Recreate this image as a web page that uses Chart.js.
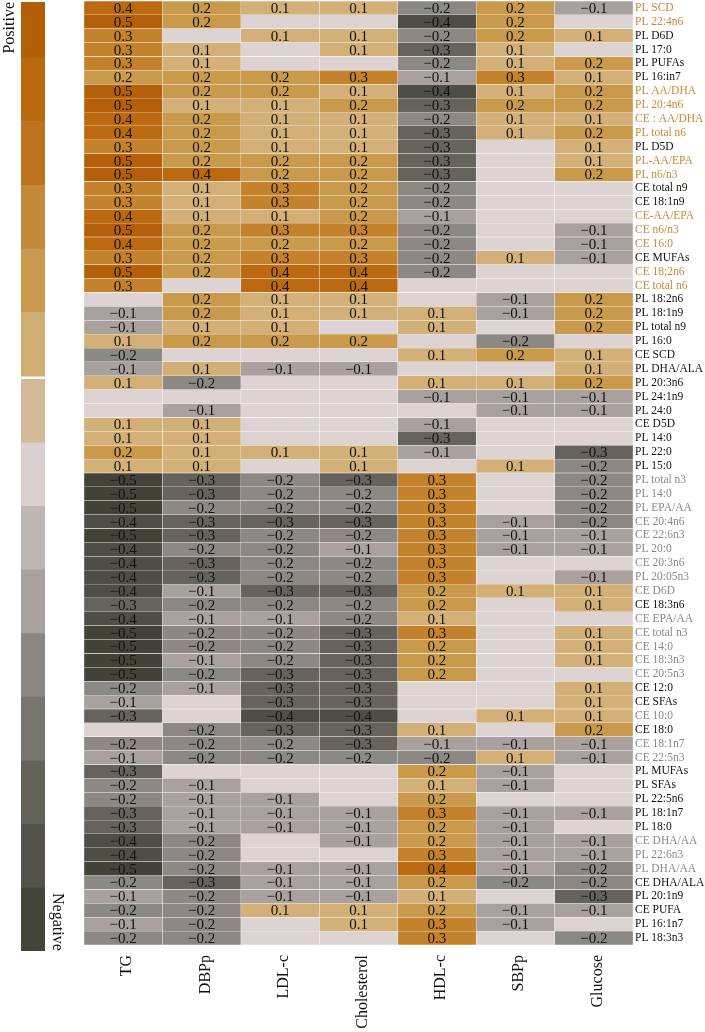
<!DOCTYPE html>
<html><head><meta charset="utf-8">
<script src="https://cdn.jsdelivr.net/npm/chart.js@4.4.1/dist/chart.umd.min.js"></script>
<style>html,body{margin:0;padding:0;background:#fff;overflow:hidden}</style>
</head><body>
<canvas id="c" width="705" height="1032" style="width:705px;height:1032px;display:block"></canvas>
<script>
const columns = ['TG','DBPp','LDL-c','Cholesterol','HDL-c','SBPp','Glucose'];
const rowLabels = ['PL SCD','PL 22:4n6','PL D6D','PL 17:0','PL PUFAs','PL 16:in7','PL AA/DHA','PL 20:4n6','CE : AA/DHA','PL total n6',
 'PL D5D','PL-AA/EPA','PL n6/n3','CE total n9','CE 18:1n9','CE-AA/EPA','CE n6/n3','CE 16:0','CE MUFAs','CE 18;2n6',
 'CE total n6','PL 18:2n6','PL 18:1n9','PL total n9','PL 16:0','CE SCD','PL DHA/ALA','PL 20:3n6','PL 24:1n9','PL 24:0',
 'CE D5D','PL 14:0','PL 22:0','PL 15:0','PL total n3','PL 14:0','PL EPA/AA','CE 20:4n6','CE 22:6n3','PL 20:0',
 'CE 20:3n6','PL 20:05n3','CE D6D','CE 18:3n6','CE EPA/AA','CE total n3','CE 14:0','CE 18:3n3','CE 20:5n3','CE 12:0',
 'CE SFAs','CE 10:0','CE 18:0','CE 18:1n7','CE 22:5n3','PL MUFAs','PL SFAs','PL 22:5n6','PL 18:1n7','PL 18:0',
 'CE DHA/AA','PL 22:6n3','PL DHA/AA','CE DHA/ALA','PL 20:1n9','CE PUFA','PL 16:1n7','PL 18:3n3'];
// o = orange label, g = gray label, k = black label
const labelTone = ['o','o','k','k','k','k','o','o','o','o',
 'k','o','o','k','k','o','o','o','k','o',
 'o','k','k','k','k','k','k','k','k','k',
 'k','k','k','k','g','g','g','g','g','g',
 'g','g','g','k','g','g','g','g','g','k',
 'k','g','k','g','g','k','k','k','k','k',
 'g','g','g','k','k','k','k','k'];
const N = null;
const TG = [0.4,0.5,0.3,0.3,0.3,0.2,0.5,0.5,0.4,0.4, 0.3,0.5,0.5,0.3,0.3,0.4,0.5,0.4,0.3,0.5,
 0.3,N,-0.1,-0.1,0.1,-0.2,-0.1,0.1,N,N, 0.1,0.1,0.2,0.1,-0.5,-0.5,-0.5,-0.4,-0.5,-0.4,
 -0.4,-0.4,-0.4,-0.3,-0.4,-0.5,-0.5,-0.5,-0.5,-0.2, -0.1,-0.3,N,-0.2,-0.1,-0.3,-0.2,-0.2,-0.3,-0.3,
 -0.4,-0.4,-0.5,-0.2,-0.1,-0.2,-0.1,-0.2];
const DBPp = [0.2,0.2,N,0.1,0.1,0.2,0.2,0.1,0.2,0.2, 0.2,0.2,0.4,0.1,0.1,0.1,0.2,0.2,0.2,0.2,
 N,0.2,0.2,0.1,0.2,N,0.1,-0.2,N,-0.1, 0.1,0.1,0.1,0.1,-0.3,-0.3,-0.2,-0.3,-0.3,-0.2,
 -0.3,-0.3,-0.1,-0.2,-0.1,-0.2,-0.2,-0.1,-0.2,-0.1, N,N,-0.2,-0.2,-0.2,N,-0.1,-0.1,-0.1,-0.1,
 -0.2,-0.2,-0.2,-0.3,-0.2,-0.2,-0.2,-0.2];
const LDLc = [0.1,N,0.1,N,N,0.2,0.2,0.1,0.1,0.1, 0.1,0.2,0.2,0.3,0.3,0.1,0.3,0.2,0.3,0.4,
 0.4,0.1,0.1,0.1,0.2,N,-0.1,N,N,N, N,N,0.1,N,-0.2,-0.2,-0.2,-0.3,-0.2,-0.2,
 -0.2,-0.2,-0.3,-0.2,-0.1,-0.2,-0.2,-0.2,-0.3,-0.3, -0.3,-0.4,-0.3,-0.2,-0.2,N,N,-0.1,-0.1,-0.1,
 N,N,-0.1,-0.1,-0.1,0.1,N,N];
const Cholesterol = [0.1,N,0.1,0.1,N,0.3,0.1,0.2,0.1,0.1, 0.1,0.2,0.2,0.2,0.2,0.2,0.3,0.2,0.3,0.4,
 0.4,0.1,0.1,N,0.2,N,-0.1,N,N,N, N,N,0.1,0.1,-0.3,-0.2,-0.2,-0.3,-0.2,-0.1,
 -0.2,-0.2,-0.3,-0.2,-0.2,-0.3,-0.3,-0.3,-0.3,-0.3, -0.3,-0.4,-0.3,-0.3,-0.2,N,N,N,-0.1,-0.1,
 -0.1,N,-0.1,-0.1,-0.1,0.1,0.1,N];
const HDLc = [-0.2,-0.4,-0.2,-0.3,-0.2,-0.1,-0.4,-0.3,-0.2,-0.3, -0.3,-0.3,-0.3,-0.2,-0.2,-0.1,-0.2,-0.2,-0.2,-0.2,
 N,N,0.1,0.1,N,0.1,N,0.1,-0.1,N, -0.1,-0.3,-0.1,N,0.3,0.3,0.3,0.3,0.3,0.3,
 0.3,0.3,0.2,0.2,0.1,0.3,0.2,0.2,0.2,N, N,N,0.1,-0.1,-0.2,0.2,0.1,0.2,0.3,0.2,
 0.2,0.3,0.4,0.2,0.1,0.2,0.3,0.3];
const SBPp = [0.2,0.2,0.2,0.1,0.1,0.3,0.1,0.2,0.1,0.1, N,N,N,N,N,N,N,N,0.1,N,
 N,-0.1,-0.1,N,-0.2,0.2,N,0.1,-0.1,-0.1, N,N,N,0.1,N,N,N,-0.1,-0.1,-0.1,
 N,N,0.1,N,N,N,N,N,N,N, N,0.1,N,-0.1,0.1,-0.1,-0.1,N,-0.1,-0.1,
 -0.1,-0.1,-0.1,-0.2,N,-0.1,-0.1,N];
const Glucose = [-0.1,N,0.1,N,0.2,0.1,0.2,0.2,0.1,0.2, 0.1,0.1,0.2,N,N,N,-0.1,-0.1,-0.1,N,
 N,0.2,0.2,0.2,N,0.1,0.1,0.2,-0.1,-0.1, N,N,-0.3,-0.2,-0.2,-0.2,-0.2,-0.2,-0.1,-0.1,
 N,-0.1,0.1,0.1,N,0.1,0.1,0.1,N,0.1, 0.1,0.1,0.2,-0.1,-0.1,N,N,N,-0.1,N,
 -0.1,-0.1,-0.2,-0.2,-0.3,-0.1,N,-0.2];
const columnValues = [TG, DBPp, LDLc, Cholesterol, HDLc, SBPp, Glucose];

const legendColors = ['#b35f07','#b9690f','#bd7420','#c38838','#c99a50','#cfae72',
  '#d4b998','#d9d0cf','#beb6b2','#a8a19e','#8b8682','#78756e','#65625a','#53524a','#44433a'];
const cellColor = {'0.5':'#b45f09','0.4':'#bb6a12','0.3':'#c4822c','0.2':'#c99a4c','0.1':'#d3b077',
  'null':'#dcd3d2','-0.1':'#a8a19e','-0.2':'#8c8884','-0.3':'#66635c','-0.4':'#4f4e46','-0.5':'#434239'};
const toneColor = {o:'#cc8834', g:'#8a8886', k:'#111111'};
const SERIF = "'Liberation Serif','DejaVu Serif',serif";

function colorFor(v){ return cellColor[v === null ? 'null' : v.toFixed(1)]; }
function fmt(v){ return v < 0 ? '\u2212' + Math.abs(v).toFixed(1) : v.toFixed(1); }

const datasets = columns.map((name, j) => ({
  label: name,
  data: rowLabels.map(() => [j, j + 1]),
  values: columnValues[j],
  backgroundColor: ctx => colorFor(columnValues[j][ctx.dataIndex]),
  borderColor: 'rgba(255,255,255,0.35)',
  borderWidth: 0.5,
  borderSkipped: false,
  barPercentage: 1,
  categoryPercentage: 1,
  grouped: false
}));

const valuePlugin = {
  id: 'values',
  afterDatasetsDraw(chart){
    const ctx = chart.ctx;
    ctx.save();
    ctx.font = '15px ' + SERIF;
    ctx.fillStyle = '#111';
    ctx.textAlign = 'center';
    ctx.textBaseline = 'middle';
    chart.data.datasets.forEach((ds, di) => {
      const meta = chart.getDatasetMeta(di);
      meta.data.forEach((el, i) => {
        const v = ds.values[i];
        if (v === null) return;
        ctx.fillText(fmt(v), (el.x + el.base) / 2, el.y + 1);
      });
    });
    ctx.restore();
  }
};

const legendPlugin = {
  id: 'colorLegend',
  afterDraw(chart){
    const ctx = chart.ctx;
    ctx.save();
    const x = 21, w = 24;
    ctx.beginPath(); ctx.rect(0, 2, 80, 1030); ctx.clip();
    const posTop = -6, posBot = 376, negTop = 379, negBot = 951;
    const ph = (posBot - posTop) / 6, nh = (negBot - negTop) / 9;
    for (let i = 0; i < 6; i++){
      ctx.fillStyle = legendColors[i];
      ctx.fillRect(x, posTop + i * ph, w, ph + 0.5);
    }
    for (let i = 0; i < 9; i++){
      ctx.fillStyle = legendColors[6 + i];
      ctx.fillRect(x, negTop + i * nh, w, nh + (i < 8 ? 0.5 : 0));
    }
    ctx.restore();
    ctx.save();
    ctx.font = '16px ' + SERIF;
    ctx.fillStyle = '#111';
    ctx.textBaseline = 'middle';
    ctx.translate(10, 2); ctx.rotate(-Math.PI / 2);
    ctx.textAlign = 'right';
    ctx.fillText('Positive', 0, 0);
    ctx.restore();
    ctx.save();
    ctx.font = '16px ' + SERIF;
    ctx.fillStyle = '#111';
    ctx.textBaseline = 'middle';
    ctx.translate(57, 893); ctx.rotate(Math.PI / 2);
    ctx.textAlign = 'left';
    ctx.fillText('Negative', 0, 0);
    ctx.restore();
  }
};

new Chart(document.getElementById('c'), {
  type: 'bar',
  data: { labels: rowLabels, datasets },
  options: {
    indexAxis: 'y',
    responsive: false,
    animation: false,
    devicePixelRatio: 1,
    layout: { padding: { left: 84, top: 1, right: 0, bottom: 0 } },
    plugins: { legend: { display: false }, tooltip: { enabled: false } },
    scales: {
      y: {
        type: 'category',
        position: 'right',
        offset: true,
        grid: { display: false, drawTicks: false, tickLength: 0 },
        border: { display: false },
        ticks: {
          autoSkip: false,
          padding: 2,
          font: { family: SERIF, size: 11.5 },
          color: ctx => toneColor[labelTone[ctx.index]]
        },
        afterFit: s => { s.width = 72; s.paddingTop = 0; s.paddingBottom = 0; }
      },
      x: {
        type: 'linear',
        position: 'bottom',
        min: 0, max: columns.length,
        grid: { display: false, drawTicks: false, tickLength: 0 },
        border: { display: false },
        afterBuildTicks: s => { s.ticks = columns.map((c, i) => ({ value: i + 0.55 })); },
        ticks: {
          autoSkip: false,
          minRotation: 90, maxRotation: 90,
          padding: 10,
          font: { family: SERIF, size: 16 },
          color: '#111',
          callback: v => columns[Math.round(v - 0.55)]
        },
        afterFit: s => { s.height = 87; s.paddingLeft = 0; s.paddingRight = 0; }
      }
    }
  },
  plugins: [valuePlugin, legendPlugin]
});
</script>
</body></html>
